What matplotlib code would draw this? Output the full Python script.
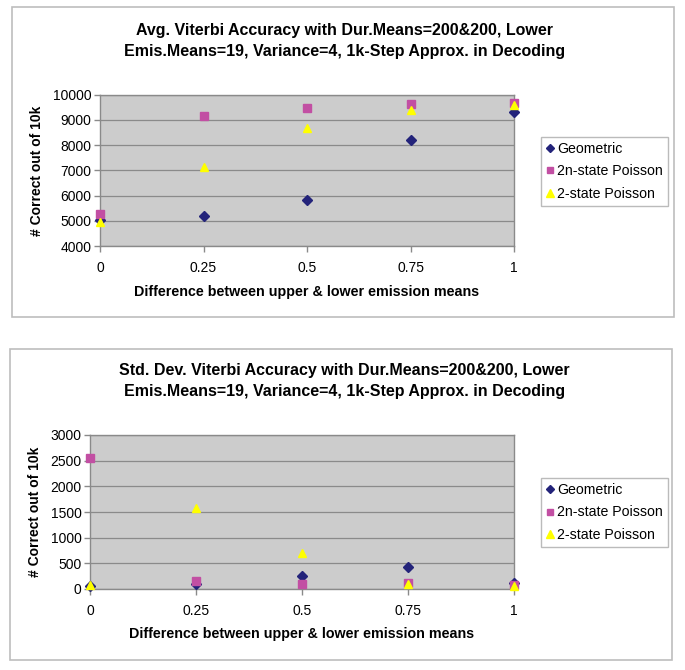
import matplotlib
matplotlib.use("Agg")
import matplotlib.pyplot as plt
from matplotlib.patches import Rectangle

plt.rcParams['font.family'] = ['Liberation Sans', 'DejaVu Sans']

x_vals = [0, 0.25, 0.5, 0.75, 1]
x_ticklabels = ['0', '0.25', '0.5', '0.75', '1']
series_names = ['Geometric', '2n-state Poisson', '2-state Poisson']

avg_geometric = [5050, 5170, 5810, 8190, 9320]
avg_2n_poisson = [5270, 9160, 9460, 9650, 9690]
avg_2_poisson = [4950, 7120, 8690, 9380, 9610]

std_geometric = [60, 100, 250, 420, 120]
std_2n_poisson = [2560, 155, 90, 120, 80]
std_2_poisson = [70, 1580, 700, 100, 50]

title_avg = "Avg. Viterbi Accuracy with Dur.Means=200&200, Lower\nEmis.Means=19, Variance=4, 1k-Step Approx. in Decoding"
title_std = "Std. Dev. Viterbi Accuracy with Dur.Means=200&200, Lower\nEmis.Means=19, Variance=4, 1k-Step Approx. in Decoding"
xlabel = "Difference between upper & lower emission means"
ylabel = "# Correct out of 10k"

W, H = 685, 670
fig = plt.figure(figsize=(W / 100, H / 100), dpi=100)

def fx(px):
    return px / W

def fy(py):
    return 1 - py / H

colors = ['#23237A', '#C24FA3', '#FFFF00']
markers = ['D', 's', '^']
msizes = [5, 5.2, 6.2]

# outer chart boxes
for (x0, y0, x1, y1) in [(12, 7, 674, 317), (10, 349, 672, 660)]:
    fig.patches.append(Rectangle((fx(x0), fy(y1)), fx(x1 - x0), (y1 - y0) / H,
                                 transform=fig.transFigure, fill=False,
                                 edgecolor='#BDBDBD', linewidth=1.2))

def make_chart(rect, data, ylim, yticks, title, title_y, ylabel_x, xlabel_y,
               legend_box):
    ax = fig.add_axes(rect)
    ax.set_facecolor('#CCCCCC')
    for name, vals, c, m, s in zip(series_names, data, colors, markers, msizes):
        ax.plot(x_vals, vals, linestyle='none', marker=m, color=c,
                markersize=s, markeredgecolor=c, clip_on=False,
                label=name, zorder=3)
    ax.set_xlim(0, 1)
    ax.set_ylim(*ylim)
    ax.set_yticks(yticks)
    ax.set_yticklabels([str(v) for v in yticks], fontsize=10)
    ax.set_xticks(x_vals)
    ax.set_xticklabels(x_ticklabels, fontsize=10)
    ax.yaxis.grid(True, color='#8A8A8A', linewidth=0.9)
    ax.set_axisbelow(True)
    for sp in ax.spines.values():
        sp.set_color('#8A8A8A')
        sp.set_linewidth(1.0)
    ax.tick_params(axis='both', color='#8A8A8A', length=4, width=1.0,
                   pad=2)
    ax.tick_params(axis='x', pad=7)
    fig.text(0.503, fy(title_y), title, ha='center', va='center',
             fontsize=11.5, fontweight='bold', linespacing=1.45)
    fig.text(fx(ylabel_x), rect[1] + rect[3] / 2, ylabel, rotation=90,
             ha='center', va='center', fontsize=10, fontweight='bold')
    fig.text(rect[0] + rect[2] / 2, fy(xlabel_y), xlabel, ha='center',
             va='center', fontsize=10.3, fontweight='bold')
    lx0, ly0, lx1, ly1 = legend_box
    leg = ax.legend(loc='upper left', bbox_to_anchor=(fx(lx0), fy(ly0)),
                    bbox_transform=fig.transFigure, fontsize=10.2,
                    frameon=True, fancybox=False, edgecolor='#AAAAAA',
                    borderpad=0.35, labelspacing=0.6, handlelength=0.5,
                    handletextpad=0.3, borderaxespad=0, markerscale=0.85)
    leg.get_frame().set_linewidth(1.0)
    return ax

make_chart([fx(100), fy(246), fx(414), 151.3 / H],
           [avg_geometric, avg_2n_poisson, avg_2_poisson],
           (4000, 10000), list(range(4000, 10001, 1000)),
           title_avg, 41, 37, 292, (541, 137, 668, 205))

make_chart([fx(90), fy(589), fx(424), 154 / H],
           [std_geometric, std_2n_poisson, std_2_poisson],
           (0, 3000), list(range(0, 3001, 500)),
           title_std, 381, 35, 634, (541, 478, 668, 546))

fig.savefig('out.png', dpi=100)
